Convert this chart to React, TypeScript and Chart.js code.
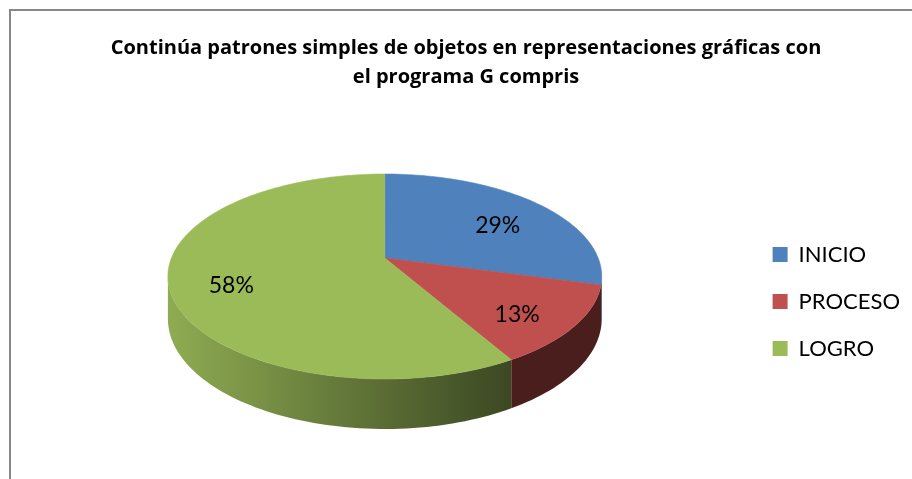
import React, { useEffect, useRef } from 'react';
import { Chart, registerables } from 'chart.js';

Chart.register(...registerables);

const categories = ['INICIO', 'PROCESO', 'LOGRO'];
const counts = [7, 3, 14];
const sliceColors = ['#4F81BD', '#C0504D', '#9BBB59'];
const titleLines = [
  'Continúa patrones simples de objetos en representaciones gráficas con',
  'el programa G compris',
];

// 3D perspective style, relative to the pie radius computed by Chart.js
const TILT = { bx: 1.244, ay: 0.578, k: 0.1805, depth: 0.239, labelR: 0.72, labelDepth: 0.2 };

function hexToRgb(h: string) {
  const n = parseInt(h.slice(1), 16);
  return [(n >> 16) & 255, (n >> 8) & 255, n & 255];
}

function shade(hex: string, f: number) {
  const [r, g, b] = hexToRgb(hex);
  return `rgb(${Math.round(r * f)},${Math.round(g * f)},${Math.round(b * f)})`;
}

const pie3d = {
  id: 'pie3d',
  beforeDatasetsDraw(chart: any) {
    const meta = chart.getDatasetMeta(0);
    const arcs = meta.data;
    if (!arcs.length) return false;
    const ctx = chart.ctx as CanvasRenderingContext2D;
    const first = arcs[0].getProps(['x', 'y', 'outerRadius'], true);
    const cx = first.x;
    const R = first.outerRadius;
    const B = R * TILT.bx;
    const A = R * TILT.ay;
    const k = TILT.k;
    const H = R * TILT.depth;
    const topExt = A / (1 + k);
    const botExt = (A + H) / (1 - k);
    const Y0 = first.y - (botExt - topExt) / 2;
    const proj = (u: number, v: number, h: number) => {
      const w = 1 - k * v;
      return [cx + (B * u) / w, Y0 + (A * v + h) / w];
    };
    const xHalf = (B * Math.sqrt(1 - k * k)) / (1 - k * k);
    const xmin = cx - xHalf;
    const xmax = cx + xHalf;
    const vis0 = Math.asin(k);
    const vis1 = Math.PI - Math.asin(k);
    const steps = 120;

    ctx.save();
    // side walls
    arcs.forEach((arc: any, i: number) => {
      const p = arc.getProps(['startAngle', 'endAngle'], true);
      const s = Math.max(p.startAngle, vis0);
      const e = Math.min(p.endAngle, vis1);
      if (e <= s) return;
      const color = sliceColors[i];
      const grad = ctx.createLinearGradient(xmin, 0, xmax, 0);
      for (let j = 0; j <= 10; j++) {
        const t = j / 10;
        grad.addColorStop(t, shade(color, Math.max(0.38, 0.92 - 0.68 * t)));
      }
      ctx.beginPath();
      const n = Math.max(2, Math.ceil(((e - s) / (2 * Math.PI)) * steps * 2));
      for (let j = 0; j <= n; j++) {
        const th = s + ((e - s) * j) / n;
        const [x, y] = proj(Math.cos(th), Math.sin(th), 0);
        if (j === 0) ctx.moveTo(x, y);
        else ctx.lineTo(x, y);
      }
      for (let j = n; j >= 0; j--) {
        const th = s + ((e - s) * j) / n;
        const [x, y] = proj(Math.cos(th), Math.sin(th), H);
        ctx.lineTo(x, y);
      }
      ctx.closePath();
      ctx.fillStyle = grad;
      ctx.fill();
    });
    // top faces
    arcs.forEach((arc: any, i: number) => {
      const p = arc.getProps(['startAngle', 'endAngle'], true);
      const a = p.startAngle;
      const b = p.endAngle;
      const n = Math.max(2, Math.ceil(((b - a) / (2 * Math.PI)) * steps * 2));
      ctx.beginPath();
      const [x0, y0] = proj(0, 0, 0);
      ctx.moveTo(x0, y0);
      for (let j = 0; j <= n; j++) {
        const th = a + ((b - a) * j) / n;
        const [x, y] = proj(Math.cos(th), Math.sin(th), 0);
        ctx.lineTo(x, y);
      }
      ctx.closePath();
      ctx.fillStyle = sliceColors[i];
      ctx.fill();
      ctx.strokeStyle = sliceColors[i];
      ctx.lineWidth = 0.6;
      ctx.stroke();
    });
    // data labels
    const total = counts.reduce((s, v) => s + v, 0);
    ctx.fillStyle = '#000';
    ctx.font = '23px Lato';
    ctx.textAlign = 'center';
    ctx.textBaseline = 'middle';
    arcs.forEach((arc: any, i: number) => {
      const p = arc.getProps(['startAngle', 'endAngle'], true);
      const mid = (p.startAngle + p.endAngle) / 2;
      const t = TILT.labelR;
      const [x, y] = proj(t * Math.cos(mid), t * Math.sin(mid), H * TILT.labelDepth);
      ctx.fillText(Math.round((counts[i] / total) * 100) + '%', x, y);
    });
    ctx.restore();
    return false;
  },
};

export default function App() {
  const ref = useRef<HTMLCanvasElement | null>(null);
  useEffect(() => {
    if (!ref.current) return;
    const chart = new Chart(ref.current, {
      type: 'pie',
      data: {
        labels: categories,
        datasets: [
          {
            data: counts,
            backgroundColor: sliceColors,
            borderWidth: 0,
          },
        ],
      },
      options: {
        responsive: false,
        animation: false,
        devicePixelRatio: 1,
        events: [],
        layout: { padding: { left: 22, right: 2, top: 0, bottom: 6 } },
        plugins: {
          title: {
            display: true,
            text: titleLines,
            color: '#000',
            font: { family: 'Open Sans', size: 20, weight: 'bold', lineHeight: '29px' },
            padding: { top: 34, bottom: 38 },
          },
          legend: {
            position: 'right',
            fullSize: false,
            align: 'center',
            labels: {
              boxWidth: 15,
              boxHeight: 15,
              padding: 25,
              color: '#000',
              font: { family: 'Lato', size: 22 },
            },
          },
          tooltip: { enabled: false },
        },
      } as any,
      plugins: [pie3d],
    });
    return () => chart.destroy();
  }, []);
  return (
    <div
      style={{
        position: 'fixed',
        left: 0,
        top: 0,
        width: 912,
        height: 479,
        overflow: 'hidden',
        background: '#fff',
      }}
    >
      <div
        style={{
          position: 'absolute',
          left: 9,
          top: 9,
          width: 2000,
          height: 2000,
          borderLeft: '2px solid #878787',
          borderTop: '2px solid #878787',
        }}
      />
      <canvas ref={ref} width={912} height={479} style={{ position: 'absolute', left: 0, top: 0 }} />
    </div>
  );
}
